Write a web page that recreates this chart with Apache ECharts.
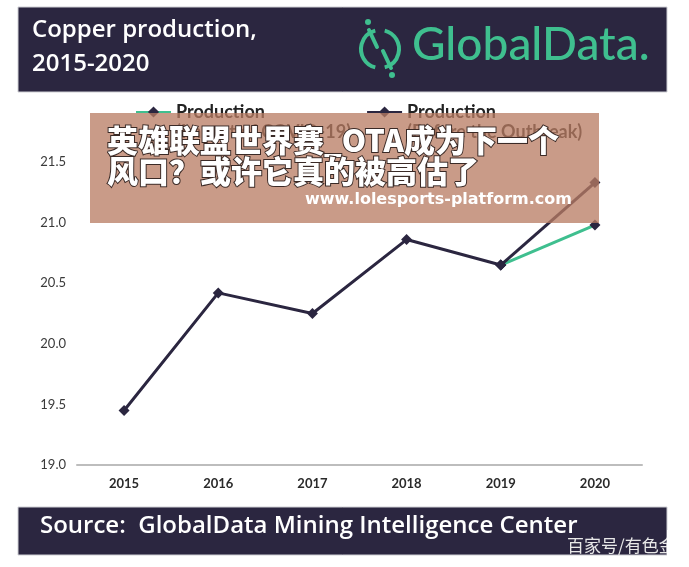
<!DOCTYPE html>
<html>
<head>
<meta charset="utf-8">
<script src="https://cdn.jsdelivr.net/npm/echarts@6/dist/echarts.min.js"></script>
<style>
  html, body { margin: 0; padding: 0; background: #fff; }
  #chart { width: 689px; height: 567px; }
</style>
</head>
<body>
<div id="chart"></div>
<script>
// data
const years = ["2015", "2016", "2017", "2018", "2019", "2020"];
const production = [19.45, 20.42, 20.25, 20.86, 20.65, null];
const impactCovid = [null, null, null, null, 20.65, 20.98];
const beforeOutbreak = [null, null, null, null, 20.65, 21.33];
const yTicks = { min: 19, max: 21.5, step: 0.5 };

const navy = "#2b2640";
const teal = "#3fbf8f";

const chart = echarts.init(document.getElementById("chart"));

const lineCommon = {
  type: "line",
  symbol: "diamond",
  symbolSize: 11,
  itemStyle: { color: navy },
  z: 3
};

const option = {
  backgroundColor: "#fff",
  animation: false,
  grid: { left: 77, right: 47, top: 162, bottom: 102 },
  legend: {
    left: 130,
    top: 77,
    itemWidth: 35,
    itemHeight: 14,
    itemGap: 15,
    selectedMode: false,
    data: ["Production\n(Impact of COVID-19)", "Production\n(Before the Outbreak)"],
    // blank first line keeps "Production" level with the icon
    formatter: name => "\n" + name,
    textStyle: {
      fontFamily: "Lato",
      fontWeight: "bold",
      fontSize: 18,
      color: "#222",
      lineHeight: 20
    }
  },
  xAxis: {
    type: "category",
    data: years,
    axisLine: { lineStyle: { color: "#bdbdbd", width: 2 } },
    axisTick: { show: false },
    axisLabel: {
      margin: 12,
      fontFamily: "Lato",
      fontWeight: "bold",
      fontSize: 13,
      color: "#2a2a2a"
    }
  },
  yAxis: {
    type: "value",
    min: yTicks.min,
    max: yTicks.max,
    interval: yTicks.step,
    axisLine: { show: false },
    axisTick: { show: false },
    splitLine: { show: false },
    axisLabel: {
      margin: 11,
      fontFamily: "Lato",
      fontSize: 13,
      color: "#3a3a3a",
      formatter: v => v.toFixed(1)
    }
  },
  series: [
    Object.assign({}, lineCommon, {
      name: "Production",
      data: production,
      lineStyle: { color: navy, width: 3 }
    }),
    Object.assign({}, lineCommon, {
      name: "Production\n(Impact of COVID-19)",
      data: impactCovid,
      lineStyle: { color: teal, width: 3 }
    }),
    Object.assign({}, lineCommon, {
      name: "Production\n(Before the Outbreak)",
      data: beforeOutbreak,
      lineStyle: { color: navy, width: 3 }
    })
  ],
  graphic: [
    // header band
    { type: "rect", shape: { x: 18, y: 7, width: 649, height: 85 },
      style: { fill: navy, stroke: "#cfcfd4", lineWidth: 1 }, z: 10 },
    { type: "text", left: 32, top: 13, z: 11,
      style: { text: "Copper production,\n2015-2020", fill: "#fff",
        font: "600 24px 'Open Sans'", lineHeight: 34 } },
    // logo mark
    { type: "arc", shape: { cx: 380, cy: 49, r: 19, startAngle: Math.PI * 0.58, endAngle: Math.PI * 1.42 },
      style: { stroke: teal, lineWidth: 4, fill: null }, z: 11 },
    { type: "arc", shape: { cx: 380, cy: 49, r: 19, startAngle: -Math.PI * 0.42, endAngle: Math.PI * 0.42 },
      style: { stroke: teal, lineWidth: 4, fill: null }, z: 11 },
    { type: "line", shape: { x1: 369, y1: 30, x2: 377, y2: 47 },
      style: { stroke: teal, lineWidth: 4, lineCap: "round" }, z: 11 },
    { type: "line", shape: { x1: 383, y1: 51, x2: 391, y2: 68 },
      style: { stroke: teal, lineWidth: 4, lineCap: "round" }, z: 11 },
    { type: "circle", shape: { cx: 368, cy: 22, r: 3 }, style: { fill: teal }, z: 11 },
    { type: "circle", shape: { cx: 392, cy: 75, r: 3 }, style: { fill: teal }, z: 11 },
    { type: "text", left: 412, top: 22, z: 11,
      style: { text: "GlobalData.", fill: teal, font: "500 46px Lato" } },
    // footer band
    { type: "rect", shape: { x: 18, y: 507, width: 649, height: 48 },
      style: { fill: navy, stroke: "#cfcfd4", lineWidth: 1 }, z: 10 },
    { type: "text", left: 40, top: 514, z: 11,
      style: { text: "Source:  GlobalData Mining Intelligence Center", fill: "#fff",
        font: "600 24px 'Open Sans'" } },
    { type: "text", left: 567, top: 537, z: 12,
      style: { text: "百家号/有色金", fill: "#e8e8e8",
        font: "17px 'Noto Sans CJK SC'" } },
    { type: "rect", shape: { x: 667, y: 530, width: 30, height: 37 },
      style: { fill: "#fff" }, z: 13 },
    // overlay banner
    { type: "rect", shape: { x: 90, y: 113, width: 509, height: 110 },
      style: { fill: "rgba(184,124,98,0.76)" }, z: 20 },
    { type: "text", left: 106, top: 124, z: 21,
      style: { text: "英雄联盟世界赛_OTA成为下一个\n风口？或许它真的被高估了", fill: "#fff",
        font: "900 31px 'Noto Sans CJK SC'", lineHeight: 31,
        stroke: "#3a2a26", lineWidth: 2,
        textShadowColor: "rgba(40,25,20,0.8)", textShadowOffsetX: 2, textShadowOffsetY: 2 } },
    { type: "text", left: 305, top: 192, z: 21,
      style: { text: "www.lolesports-platform.com", fill: "#fff",
        font: "bold 16px 'DejaVu Sans'",
        textShadowColor: "rgba(40,25,20,0.85)", textShadowOffsetX: 1.5, textShadowOffsetY: 1.5 } }
  ]
};

chart.setOption(option);
</script>
</body>
</html>
